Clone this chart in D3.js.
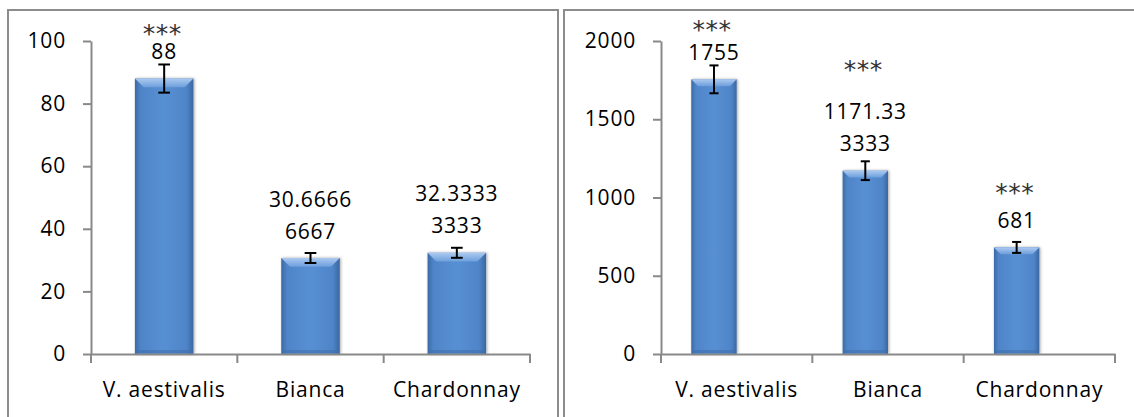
<!DOCTYPE html>
<html>
<head>
<meta charset="utf-8">
<script src="https://cdn.jsdelivr.net/npm/d3@7"></script>
<style>
body { margin: 0; background: #fff; }
svg { display: block; }
text { font-family: "Open Sans", sans-serif; font-size: 21px; fill: #000; letter-spacing: 0.8px; }
.stars { font-family: "DejaVu Sans", sans-serif; font-size: 25px; fill: #333; letter-spacing: 0.5px; }
</style>
</head>
<body>
<svg id="chart"></svg>
<script>
const WIDTH = 1134;
const HEIGHT = 417;
const PLOT_TOP = 41;
const PLOT_BOTTOM = 354;

const categories = ["V. aestivalis", "Bianca", "Chardonnay"];

const leftValues = [88, 30.66666667, 32.33333333];
const leftErrors = [4.5, 1.6, 1.6];
const leftTicks = [0, 20, 40, 60, 80, 100];
const leftStars = ["***", "", ""];
const leftStarAt = [104, null, null];

const rightValues = [1755, 1171.333333, 681];
const rightErrors = [89, 60, 35];
const rightTicks = [0, 500, 1000, 1500, 2000];
const rightStars = ["***", "***", "***"];
const rightStarAt = [2110, 1855, 1070];

const svg = d3.select("#chart").attr("width", WIDTH).attr("height", HEIGHT);
const defs = svg.append("defs");

// bar body: darker edges, lighter middle
const sideGrad = defs.append("linearGradient").attr("id", "barSide").attr("x1", 0).attr("x2", 1).attr("y1", 0).attr("y2", 0);
[[0, "#3b6aa4"], [0.1, "#4f85c8"], [0.5, "#5790d3"], [0.88, "#4f85c8"], [1, "#3a67a0"]]
	.forEach(s => sideGrad.append("stop").attr("offset", s[0]).attr("stop-color", s[1]));
const topGrad = defs.append("linearGradient").attr("id", "barTop").attr("x1", 0).attr("x2", 0).attr("y1", 0).attr("y2", 1);
[[0, "#abcaf0"], [1, "#6d9edc"]]
	.forEach(s => topGrad.append("stop").attr("offset", s[0]).attr("stop-color", s[1]));
const shadow = defs.append("filter").attr("id", "shadow").attr("x", "-20%").attr("y", "-5%").attr("width", "140%").attr("height", "110%");
shadow.append("feDropShadow").attr("dx", 1).attr("dy", 0).attr("stdDeviation", 1.5)
	.attr("flood-color", "#000").attr("flood-opacity", 0.35);

// Excel "General" number text, wrapped into 7 character lines
function labelLines(v) {
	let s = v.toPrecision(10);
	if (s.indexOf(".") >= 0) s = s.replace(/0+$/, "").replace(/\.$/, "");
	const lines = [];
	for (let i = 0; i < s.length; i += 7) lines.push(s.slice(i, i + 7));
	return lines;
}

function drawPanel(p) {
	const g = svg.append("g");

	g.append("rect")
		.attr("x", p.box[0]).attr("y", p.box[1])
		.attr("width", p.box[2]).attr("height", 600)
		.attr("fill", "none").attr("stroke", "#8c8c8c").attr("stroke-width", 2);

	const x = d3.scaleBand().domain(categories).range([p.left, p.right]).padding(0);
	const xs = d3.scaleBand().domain(p.series).range([0, x.bandwidth()])
		.paddingInner(0).paddingOuter(p.outer);
	const y = d3.scaleLinear().domain([0, d3.max(p.ticks)]).range([PLOT_BOTTOM, PLOT_TOP]);

	const bw = xs.bandwidth();
	const bevel = Math.min(9, bw * 0.15);
	const data = categories.map((c, i) => ({
		cat: c, value: p.values[i], err: p.errors[i], star: p.stars[i], starAt: p.starAt[i],
		x0: x(c) + xs(p.series[0])
	}));

	// Draw bars
	const bars = g.selectAll("g.bar").data(data).enter().append("g").attr("class", "bar");
	bars.append("rect")
		.attr("x", d => d.x0).attr("y", d => y(d.value))
		.attr("width", bw).attr("height", d => y(0) - y(d.value))
		.attr("fill", "url(#barSide)").attr("filter", "url(#shadow)");
	bars.append("path")
		.attr("d", d => {
			const t = y(d.value), a = d.x0, b = d.x0 + bw;
			return "M" + a + "," + t + "L" + b + "," + t + "L" + (b - bevel) + "," + (t + bevel)
				+ "L" + (a + bevel) + "," + (t + bevel) + "Z";
		})
		.attr("fill", "url(#barTop)");
	bars.append("rect")
		.attr("x", d => d.x0 + 1).attr("y", d => y(0) - 4)
		.attr("width", bw - 2).attr("height", 3)
		.attr("fill", "#3f70ad").attr("opacity", 0.6);

	// Error bars
	const cap = bw * 0.1;
	const err = g.selectAll("g.err").data(data).enter().append("g").attr("class", "err")
		.attr("stroke", "#000").attr("stroke-width", 2);
	err.append("line")
		.attr("x1", d => d.x0 + bw / 2).attr("x2", d => d.x0 + bw / 2)
		.attr("y1", d => y(d.value + d.err)).attr("y2", d => y(d.value - d.err));
	err.append("line")
		.attr("x1", d => d.x0 + bw / 2 - cap).attr("x2", d => d.x0 + bw / 2 + cap)
		.attr("y1", d => y(d.value + d.err)).attr("y2", d => y(d.value + d.err));
	err.append("line")
		.attr("x1", d => d.x0 + bw / 2 - cap).attr("x2", d => d.x0 + bw / 2 + cap)
		.attr("y1", d => y(d.value - d.err)).attr("y2", d => y(d.value - d.err));

	// Axes
	const yAxis = g.append("g").attr("transform", "translate(" + p.left + ",0)")
		.call(d3.axisLeft(y).tickValues(p.ticks).tickFormat(d3.format("d"))
			.tickSize(8).tickSizeOuter(0).tickPadding(17));
	const xAxis = g.append("g").attr("transform", "translate(0," + PLOT_BOTTOM + ")")
		.call(d3.axisBottom(x).tickSize(0).tickSizeOuter(0).tickPadding(28));
	[yAxis, xAxis].forEach(a => {
		a.selectAll("path, line").attr("stroke", "#898989").attr("stroke-width", 2);
		a.selectAll("text").attr("font-family", null).attr("font-size", null).attr("fill", "#000");
	});
	const bounds = categories.map(c => x(c)).concat([p.right]);
	xAxis.selectAll("line.between").data(bounds).enter().append("line")
		.attr("class", "between")
		.attr("x1", d => d).attr("x2", d => d).attr("y1", 0).attr("y2", 9)
		.attr("stroke", "#898989").attr("stroke-width", 2);

	// Value labels
	data.forEach(d => {
		const lines = labelLines(d.value);
		const lastBase = y(d.value) - 19.5;
		g.append("text")
			.attr("text-anchor", "middle")
			.selectAll("tspan").data(lines).enter().append("tspan")
			.attr("x", d.x0 + bw / 2)
			.attr("y", (l, i) => lastBase - (lines.length - 1 - i) * 32)
			.text(l => l);
		if (d.star) {
			g.append("text").attr("class", "stars")
				.attr("text-anchor", "middle")
				.attr("x", d.x0 + bw / 2 - 2)
				.attr("y", y(d.starAt) + 14)
				.text(d.star);
		}
	});
}

drawPanel({
	box: [8, 10, 550], left: 91, right: 530,
	series: ["shown"], outer: 0.75,
	values: leftValues, errors: leftErrors, ticks: leftTicks,
	stars: leftStars, starAt: leftStarAt
});
drawPanel({
	box: [564, 10, 600], left: 661, right: 1115,
	series: ["shown", "hidden"], outer: 0.667,
	values: rightValues, errors: rightErrors, ticks: rightTicks,
	stars: rightStars, starAt: rightStarAt
});
</script>
</body>
</html>
